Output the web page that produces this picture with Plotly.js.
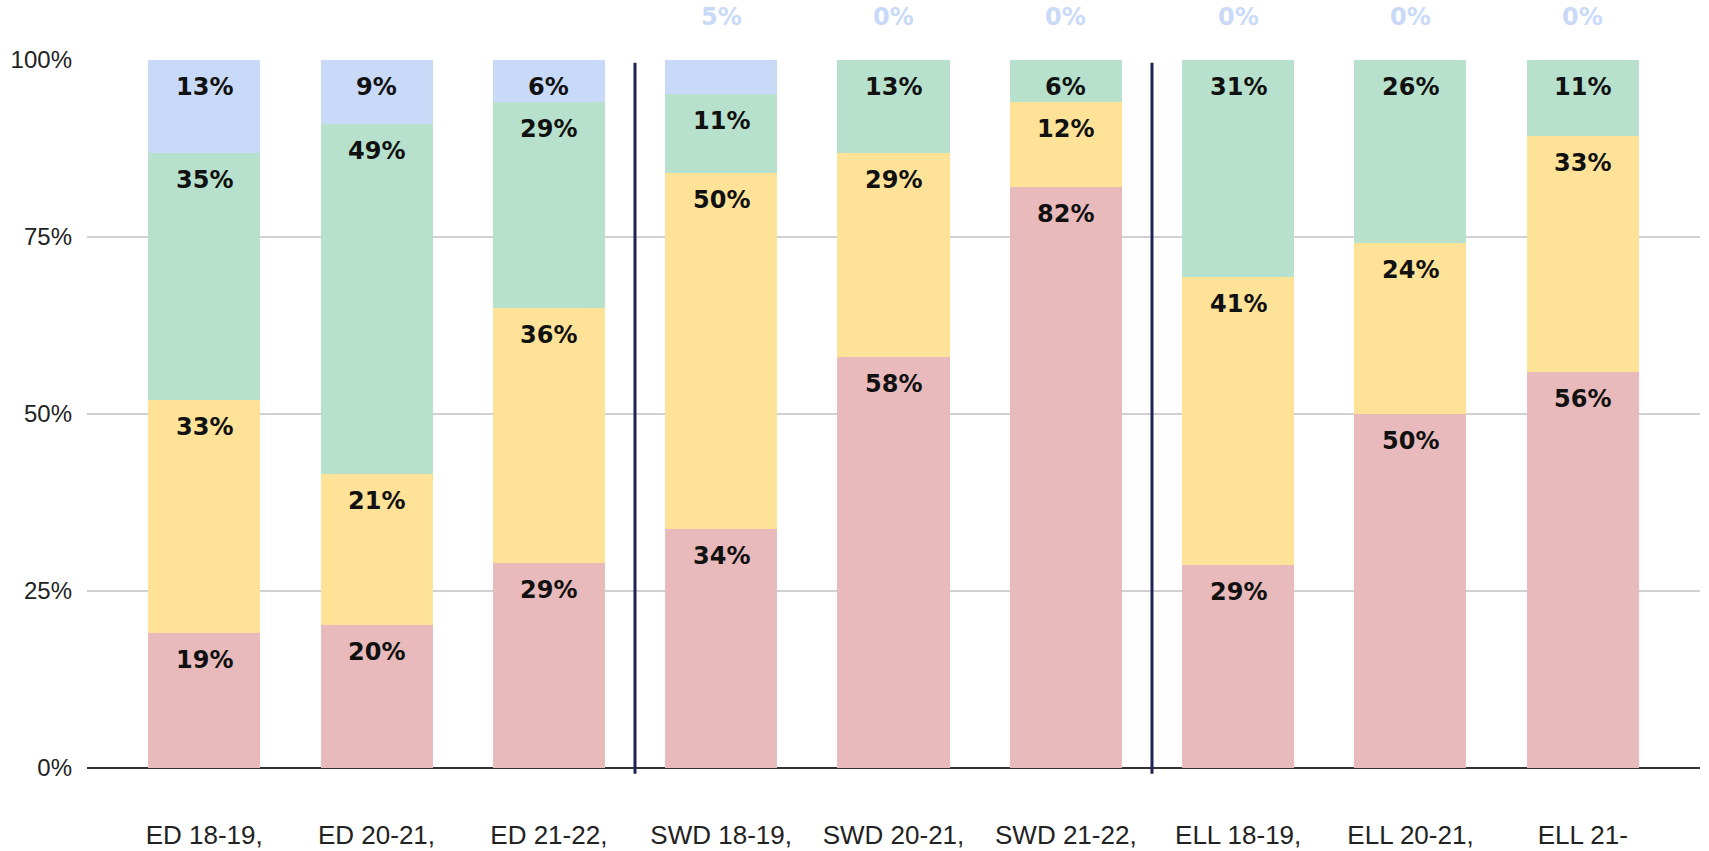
<!DOCTYPE html>
<html>
<head>
<meta charset="utf-8">
<script src="https://cdn.plot.ly/plotly-3.0.1.min.js"></script>
<style>html,body{margin:0;padding:0;background:#fff;}#chart{width:1709px;height:851px;}</style>
</head>
<body>
<div id="chart"></div>
<script>
// Categories (x tick labels as shown) and their groups
const categories = ['ED 18-19,', 'ED 20-21,', 'ED 21-22,', 'SWD 18-19,', 'SWD 20-21,', 'SWD 21-22,', 'ELL 18-19,', 'ELL 20-21,', 'ELL 21-'];
const groups = ['ED', 'ED', 'ED', 'SWD', 'SWD', 'SWD', 'ELL', 'ELL', 'ELL'];

// Series values (percent of each bar), bottom to top
const seriesRed    = [19.0, 20.2, 29.0, 33.8, 58.1, 82.0, 28.7, 50.0, 56.0];
const seriesYellow = [33.0, 21.3, 36.0, 50.2, 28.8, 12.1, 40.6, 24.2, 33.2];
const seriesGreen  = [34.9, 49.4, 29.1, 11.2, 13.1,  5.9, 30.7, 25.8, 10.8];
const seriesBlue   = [13.1,  9.1,  5.9,  4.8,  0.0,  0.0,  0.0,  0.0,  0.0];

const yTicks = [0, 25, 50, 75, 100];

const series = [
  {name: 'Red', values: seriesRed, color: '#e8babb'},
  {name: 'Yellow', values: seriesYellow, color: '#fde298'},
  {name: 'Green', values: seriesGreen, color: '#b7e1cd'},
  {name: 'Blue', values: seriesBlue, color: '#c9daf8'}
];

const traces = series.map(s => ({
  type: 'bar',
  name: s.name,
  x: categories,
  y: s.values,
  marker: {color: s.color, line: {width: 0}},
  hoverinfo: 'x+y',
  showlegend: false
}));

// Data labels computed from the data
const labelFont = {family: 'DejaVu Sans', size: 24, color: '#111111', weight: 'bold'};
const annotations = [];
const cum = categories.map(() => 0);
series.forEach(s => {
  s.values.forEach((v, i) => {
    cum[i] += v;
    const txt = Math.round(v) + '%';
    if (Math.round(v) >= 6) {
      annotations.push({
        x: categories[i], y: cum[i], xref: 'x', yref: 'y',
        text: '<b>' + txt + '</b>', showarrow: false,
        yanchor: 'middle', yshift: -27,
        font: labelFont
      });
    } else {
      annotations.push({
        x: categories[i], y: 1, xref: 'x', yref: 'paper',
        text: '<b>' + txt + '</b>', showarrow: false,
        yanchor: 'middle', yshift: 43,
        font: Object.assign({}, labelFont, {color: s.color})
      });
    }
  });
});

// Group divider lines
const shapes = [];
for (let i = 1; i < groups.length; i++) {
  if (groups[i] !== groups[i - 1]) {
    shapes.push({
      type: 'line', xref: 'x', yref: 'paper',
      x0: i - 0.5, x1: i - 0.5, y0: -0.008, y1: 0.996,
      line: {color: '#1f2456', width: 3},
      layer: 'above'
    });
  }
}

const layout = {
  width: 1709, height: 851,
  margin: {l: 87, r: 9, t: 60, b: 83},
  paper_bgcolor: '#ffffff', plot_bgcolor: '#ffffff',
  barmode: 'stack',
  bargap: 0.35,
  showlegend: false,
  xaxis: {
    type: 'category',
    range: [-0.68, 8.68],
    showgrid: false,
    zeroline: false,
    showline: false,
    ticks: '',
    tickfont: {family: 'Liberation Sans, Arial, sans-serif', size: 26, color: '#222222'},
    ticklabelstandoff: 49,
    fixedrange: true
  },
  yaxis: {
    range: [0, 100],
    tickvals: yTicks,
    ticktext: yTicks.map(t => t + '%'),
    showgrid: true,
    gridcolor: '#d0d0d0',
    gridwidth: 2,
    zeroline: true,
    zerolinecolor: '#333333',
    zerolinewidth: 2,
    showline: false,
    ticks: '',
    ticklabelstandoff: 14,
    tickfont: {family: 'Liberation Sans, Arial, sans-serif', size: 24, color: '#222222'},
    fixedrange: true
  },
  annotations: annotations,
  shapes: shapes,
  font: {family: 'Liberation Sans, Arial, sans-serif'}
};

Plotly.newPlot('chart', traces, layout, {displayModeBar: false, staticPlot: true});
</script>
</body>
</html>
